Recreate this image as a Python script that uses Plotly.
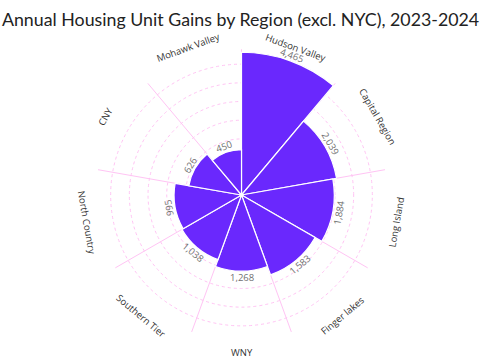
import math
import plotly.graph_objects as go

regions = ["Hudson Valley", "Capital Region", "Long Island", "Finger lakes", "WNY",
           "Southern Tier", "North Country", "CNY", "Mohawk Valley"]
gains = [4465, 2039, 1884, 1583, 1268, 1038, 995, 626, 450]
value_text = ["4,465", "2,039", "1,884", "1,583", "1,268", "1,038", "995", "626", "450"]

W, H = 488, 360
CX, CY, RPX = 241.5, 195.0, 145.7   # polar centre and radius in px
RMAX = 68.2                          # radial range (sqrt scale)
STEP = 8.75
SECTOR = 360 / len(regions)

radii = [math.sqrt(v) for v in gains]
thetas = [SECTOR / 2 + SECTOR * i for i in range(len(regions))]

fig = go.Figure()
fig.add_trace(go.Barpolar(
    r=radii, theta=thetas, width=[SECTOR] * len(regions),
    marker=dict(color="#6a28fd", line=dict(color="white", width=1.2)),
    text=regions, hoverinfo="text", showlegend=False,
))
fig.add_trace(go.Scatterpolar(r=[0], theta=[0], mode="markers",
                              marker=dict(color="white", size=4),
                              hoverinfo="skip", showlegend=False))

grid = "#ffc4f4"
fig.update_layout(
    width=W, height=H,
    margin=dict(l=0, r=0, t=0, b=0),
    paper_bgcolor="white",
    title=dict(text="Annual Housing Unit Gains by Region (excl. NYC), 2023-2024",
               x=0.004, xanchor="left", y=1 - 20 / H, yanchor="middle",
               font=dict(family="Lato", size=17.8, color="#222222")),
    polar=dict(
        domain=dict(x=[(CX - RPX) / W, (CX + RPX) / W],
                    y=[(H - CY - RPX) / H, (H - CY + RPX) / H]),
        bgcolor="white",
        radialaxis=dict(range=[0, RMAX],
                        tickvals=[STEP * k for k in range(1, 8)] + [RMAX],
                        showticklabels=False, ticks="", showline=False,
                        gridcolor=grid, griddash="dot", gridwidth=1.2),
        angularaxis=dict(direction="clockwise", rotation=90, thetaunit="degrees",
                         tickvals=[SECTOR * i for i in range(len(regions))],
                         showticklabels=False, ticks="", showline=False,
                         gridcolor=grid, gridwidth=1),
    ),
)

def to_paper(theta_deg, rpx):
    t = math.radians(theta_deg)
    x = CX + rpx * math.sin(t)
    y = CY - rpx * math.cos(t)
    return x / W, (H - y) / H

def cat_angle(t):
    if t <= 90:
        return t
    if t < 270:
        return t - 180
    return t - 360

def val_angle(t):
    if t <= 90:
        return t
    if t < 250:
        return t - 180
    return t - 360

anns = []
for name, t in zip(regions, thetas):
    x, y = to_paper(t, 157)
    anns.append(dict(text=name, x=x, y=y, xref="paper", yref="paper",
                     showarrow=False, textangle=cat_angle(t),
                     xanchor="center", yanchor="middle",
                     font=dict(family="Open Sans", size=9.5, color="#333333")))
for lab, r, t in zip(value_text, radii, thetas):
    rp = r / RMAX * RPX + 6
    x, y = to_paper(t, rp)
    anns.append(dict(text=lab, x=x, y=y, xref="paper", yref="paper",
                     showarrow=False, textangle=val_angle(t),
                     xanchor="center", yanchor="middle",
                     font=dict(family="Open Sans", size=9.5, color="#707070")))
fig.update_layout(annotations=anns)

fig.write_html("out.html", config={"displayModeBar": False},
               post_script="document.body.style.margin='0px';document.body.style.overflow='hidden';")
